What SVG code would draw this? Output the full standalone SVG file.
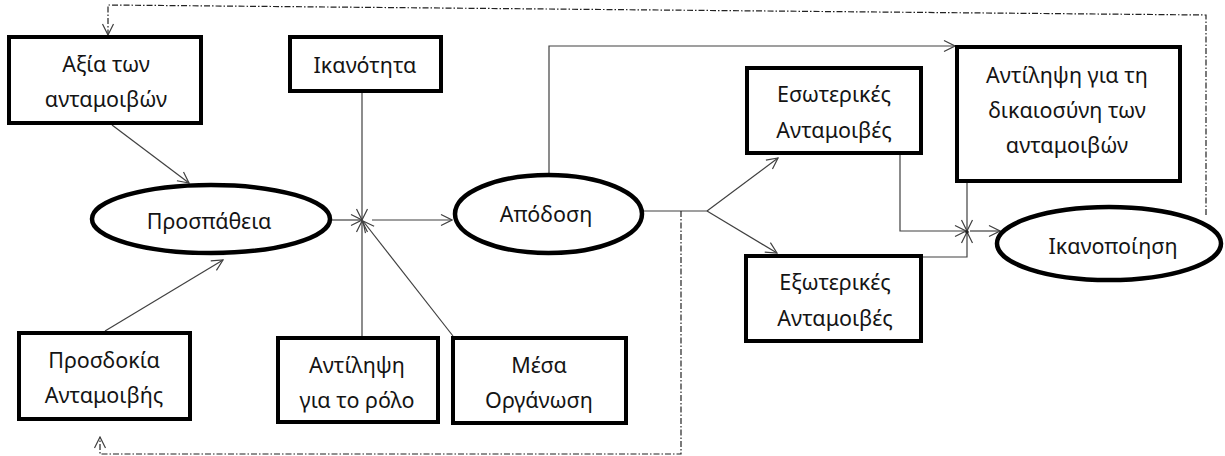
<svg xmlns="http://www.w3.org/2000/svg" width="1225" height="456" viewBox="0 0 1225 456">
<style>
.box{fill:#fff;stroke:#000;stroke-width:4}
.ell{fill:#fff;stroke:#000;stroke-width:4.5}
.t{font-family:"Noto Sans","Open Sans","DejaVu Sans",sans-serif;font-size:21.5px;fill:#141414;text-anchor:middle}
.c{fill:none;stroke:#404040;stroke-width:1.2;marker-end:url(#a)}
.cn{fill:none;stroke:#404040;stroke-width:1.2}
.d{fill:none;stroke:#222;stroke-width:1.2;stroke-dasharray:6 2 1.5 2;marker-end:url(#a)}
</style>
<defs>
<marker id="a" viewBox="-13 -7 14 14" refX="0" refY="0" markerWidth="14" markerHeight="14" markerUnits="userSpaceOnUse" orient="auto">
<path d="M-11,-5.5 L0,0 L-11,5.5" fill="none" stroke="#404040" stroke-width="1.2"/>
</marker>
</defs>
<rect width="1225" height="456" fill="#fff"/>
<g id="connectors">
<path class="c" d="M112,125 L189,183"/>
<path class="c" d="M105,331 L223,260"/>
<path class="c" d="M332,220 L362,220"/>
<path class="c" d="M362,93 L362,220"/>
<path class="c" d="M362,336 L362,221"/>
<path class="c" d="M453,336 L363,221"/>
<path class="c" d="M372,220 L452,220"/>
<path class="c" d="M549,173 L549,46 L955,46"/>
<path class="cn" d="M644,211 L707,211"/>
<path class="c" d="M707,211 L778,158"/>
<path class="c" d="M707,211 L777,253"/>
<path class="c" d="M900,155 L900,231 L966,231"/>
<path class="c" d="M967,183 L967,231"/>
<path class="c" d="M923,257 L967,257 L967,232"/>
<path class="c" d="M970,231 L1000,231"/>
<circle cx="967" cy="232" r="1.8" fill="#222"/>
<path class="d" d="M1206,215 L1206,15 L108,5 L108,35"/>
<path class="d" d="M681,211 L681,454 L100,454 L100,437"/>
</g>
<g id="axia">
<rect class="box" x="9" y="37" width="192" height="86"/>
<text class="t" x="106" y="72">Αξία των</text>
<text class="t" x="106" y="107">ανταμοιβών</text>
</g>
<g id="ikanotita">
<rect class="box" x="290" y="37" width="151" height="54"/>
<text class="t" x="365" y="73">Ικανότητα</text>
</g>
<g id="prospatheia">
<ellipse class="ell" cx="211" cy="219" rx="119" ry="34"/>
<text class="t" x="209" y="229">Προσπάθεια</text>
</g>
<g id="prosdokia">
<rect class="box" x="19" y="333" width="171" height="86"/>
<text class="t" x="104" y="368">Προσδοκία</text>
<text class="t" x="104" y="403">Ανταμοιβής</text>
</g>
<g id="antilipsi-rolou">
<rect class="box" x="278" y="338" width="160" height="84"/>
<text class="t" x="357" y="373">Αντίληψη</text>
<text class="t" x="357" y="408">για το ρόλο</text>
</g>
<g id="mesa">
<rect class="box" x="453" y="338" width="173" height="85"/>
<text class="t" x="539" y="373">Μέσα</text>
<text class="t" x="539" y="408">Οργάνωση</text>
</g>
<g id="apodosi">
<ellipse class="ell" cx="548.5" cy="214" rx="93.5" ry="39"/>
<text class="t" x="546" y="222">Απόδοση</text>
</g>
<g id="esoterikes">
<rect class="box" x="747" y="68" width="174" height="85"/>
<text class="t" x="834" y="102">Εσωτερικές</text>
<text class="t" x="834" y="138">Ανταμοιβές</text>
</g>
<g id="eksoterikes">
<rect class="box" x="746" y="256" width="175" height="85"/>
<text class="t" x="835" y="290">Εξωτερικές</text>
<text class="t" x="835" y="326">Ανταμοιβές</text>
</g>
<g id="dikaiosini">
<rect class="box" x="957" y="47" width="223" height="134"/>
<text class="t" x="1067" y="83">Αντίληψη για τη</text>
<text class="t" x="1067" y="118">δικαιοσύνη των</text>
<text class="t" x="1067" y="153">ανταμοιβών</text>
</g>
<g id="ikanopoiisi">
<ellipse class="ell" cx="1109" cy="243.5" rx="112" ry="36.5"/>
<text class="t" x="1113" y="254">Ικανοποίηση</text>
</g>
</svg>
